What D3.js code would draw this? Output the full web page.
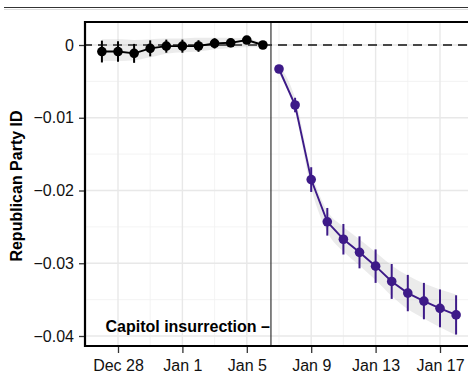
<!DOCTYPE html>
<html><head><meta charset="utf-8">
<script src="https://cdn.jsdelivr.net/npm/d3@7"></script>
<style>
html,body{margin:0;padding:0;background:#fff;}
svg{display:block;font-family:"Liberation Sans",Arial,Helvetica,sans-serif;}
</style></head>
<body><svg id="c" width="468" height="373"></svg>
<script>
// ---- data ----
const preDates = ["2020-12-27","2020-12-28","2020-12-29","2020-12-30","2020-12-31","2021-01-01","2021-01-02","2021-01-03","2021-01-04","2021-01-05","2021-01-06"];
const preEst   = [-0.0009,-0.0009,-0.00115,-0.00046,-0.00016,-0.00016,-0.00014,0.00023,0.0003,0.00068,0.0];
const preErr   = [0.0015,0.0014,0.0013,0.0011,0.0009,0.0009,0.0008,0.0007,0.0006,0.0005,0.0002];
const preRibLo = [-0.0022,-0.0022,-0.0021,-0.0017,-0.0012,-0.0010,-0.0009,-0.0006,-0.0004,-0.0003,-0.0003];
const preRibHi = [0.0008,0.0008,0.0007,0.0008,0.0009,0.0009,0.0010,0.0010,0.0010,0.0009,0.0003];

const postDates = ["2021-01-07","2021-01-08","2021-01-09","2021-01-10","2021-01-11","2021-01-12","2021-01-13","2021-01-14","2021-01-15","2021-01-16","2021-01-17","2021-01-18"];
const postEst   = [-0.0033,-0.00825,-0.0185,-0.0243,-0.0267,-0.0285,-0.0304,-0.0325,-0.0341,-0.0352,-0.0362,-0.0371];
const postErr   = [0.0005,0.001,0.0017,0.0019,0.0021,0.0022,0.0023,0.0024,0.0025,0.0025,0.0026,0.0027];
const postRibLo = [-0.0039,-0.0092,-0.0197,-0.0257,-0.0284,-0.0303,-0.0323,-0.0345,-0.0363,-0.0376,-0.0388,-0.0399];
const postRibHi = [-0.0027,-0.0073,-0.0173,-0.0228,-0.0250,-0.0267,-0.0285,-0.0303,-0.0317,-0.0328,-0.0336,-0.0343];

const xTickDates = ["2020-12-28","2021-01-01","2021-01-05","2021-01-09","2021-01-13","2021-01-17"];
const xTickLabels = ["Dec 28","Jan 1","Jan 5","Jan 9","Jan 13","Jan 17"];
const xMinorDates = ["2020-12-26","2020-12-30","2021-01-03","2021-01-07","2021-01-11","2021-01-15","2021-01-19"];
const yTicks = [0,-0.01,-0.02,-0.03,-0.04];
const yTickLabels = ["0","\u22120.01","\u22120.02","\u22120.03","\u22120.04"];
const yMinor = [-0.005,-0.015,-0.025,-0.035];
const eventDate = "2021-01-06T12:00:00";
const eventLabel = "Capitol insurrection \u2013";
const yTitle = "Republican Party ID";

// ---- setup ----
const parse = s => new Date(s.length > 10 ? s : s + "T00:00:00");
const svg = d3.select("#c");
const W = 468, H = 373;
const panel = {l:85, t:22, r:470, b:346};
const x = d3.scaleTime().domain([parse("2020-12-28"), parse("2021-01-17")]).range([118, 440]);
const y = d3.scaleLinear().domain([0, -0.04]).range([45, 336]);
const purple = "#3d1a88";

// top rules
svg.append("line").attr("x1",4).attr("x2",W).attr("y1",7.5).attr("y2",7.5).attr("stroke","#333").attr("stroke-width",1.2);
svg.append("line").attr("x1",4).attr("x2",W).attr("y1",9.5).attr("y2",9.5).attr("stroke","#ddd").attr("stroke-width",1);

const g = svg.append("g");
g.append("defs").append("clipPath").attr("id","clp").append("rect")
  .attr("x",panel.l).attr("y",panel.t).attr("width",panel.r-panel.l).attr("height",panel.b-panel.t);
const pg = g.append("g").attr("clip-path","url(#clp)");

// grid
pg.selectAll(".gxm").data(xMinorDates).join("line")
  .attr("x1",d=>x(parse(d))).attr("x2",d=>x(parse(d))).attr("y1",panel.t).attr("y2",panel.b)
  .attr("stroke","#f0f0f0").attr("stroke-width",0.8);
pg.selectAll(".gym").data(yMinor).join("line")
  .attr("y1",d=>y(d)).attr("y2",d=>y(d)).attr("x1",panel.l).attr("x2",panel.r)
  .attr("stroke","#f0f0f0").attr("stroke-width",0.8);
pg.selectAll(".gx").data(xTickDates).join("line")
  .attr("x1",d=>x(parse(d))).attr("x2",d=>x(parse(d))).attr("y1",panel.t).attr("y2",panel.b)
  .attr("stroke","#e8e8e8").attr("stroke-width",1.4);
pg.selectAll(".gy").data(yTicks).join("line")
  .attr("y1",d=>y(d)).attr("y2",d=>y(d)).attr("x1",panel.l).attr("x2",panel.r)
  .attr("stroke","#e8e8e8").attr("stroke-width",1.4);

// zero dashed line
pg.append("line").attr("x1",panel.l).attr("x2",panel.r).attr("y1",y(0)).attr("y2",y(0))
  .attr("stroke","#111").attr("stroke-width",1.6).attr("stroke-dasharray","9,6").attr("stroke-dashoffset",2);

// ribbons
function series(dates, est, err, lo, hi){
  const d = dates.map((s,i)=>({x:parse(s), e:est[i], er:err[i], lo:lo[i], hi:hi[i]}));
  pg.append("path").datum(d)
    .attr("d", d3.area().x(p=>x(p.x)).y0(p=>y(p.lo)).y1(p=>y(p.hi)).curve(d3.curveMonotoneX))
    .attr("fill","#999").attr("fill-opacity",0.2);
  return d;
}
const pre = series(preDates, preEst, preErr, preRibLo, preRibHi);
const post = series(postDates, postEst, postErr, postRibLo, postRibHi);

function marks(d, color){
  pg.append("path").datum(d).attr("d", d3.line().x(p=>x(p.x)).y(p=>y(p.e)))
    .attr("fill","none").attr("stroke",color).attr("stroke-width",1.9);
  pg.selectAll(null).data(d).join("line")
    .attr("x1",p=>x(p.x)).attr("x2",p=>x(p.x)).attr("y1",p=>y(p.e+p.er)).attr("y2",p=>y(p.e-p.er))
    .attr("stroke",color).attr("stroke-width",2);
  pg.selectAll(null).data(d).join("circle")
    .attr("cx",p=>x(p.x)).attr("cy",p=>y(p.e)).attr("r",4.8).attr("fill",color);
}
marks(pre, "#000");
marks(post, purple);

// event line
pg.append("line").attr("x1",x(parse(eventDate))).attr("x2",x(parse(eventDate)))
  .attr("y1",panel.t).attr("y2",panel.b).attr("stroke","#333").attr("stroke-width",1.2);

// annotation
g.append("text").attr("x",x(parse(eventDate))-1).attr("y",y(-0.0386)).attr("dy","0.36em")
  .attr("text-anchor","end").attr("font-weight","bold").attr("font-size",16).attr("fill","#000")
  .text(eventLabel);

// panel border
g.append("path").attr("d",`M${panel.r},${panel.t}H${panel.l}V${panel.b}H${panel.r}`)
  .attr("fill","none").attr("stroke","#000").attr("stroke-width",2.2);

// axes
const xAxis = d3.axisBottom(x).tickValues(xTickDates.map(parse))
  .tickFormat((d,i)=>xTickLabels[i]).tickSize(6).tickSizeOuter(0);
const gx = g.append("g").attr("transform",`translate(0,${panel.b+1})`).call(xAxis);
gx.select(".domain").remove();
gx.selectAll(".tick line").attr("stroke","#333").attr("stroke-width",1.3);
gx.selectAll(".tick text").attr("font-size",16).attr("fill","#111").attr("font-family","'Liberation Sans',Arial,sans-serif").attr("dy","0.95em");

const yAxis = d3.axisLeft(y).tickValues(yTicks).tickFormat((d,i)=>yTickLabels[i]).tickSize(5).tickSizeOuter(0);
const gy = g.append("g").attr("transform",`translate(${panel.l-1},0)`).call(yAxis);
gy.select(".domain").remove();
gy.selectAll(".tick line").attr("stroke","#333").attr("stroke-width",1.3);
gy.selectAll(".tick text").attr("font-size",16).attr("fill","#111").attr("font-family","'Liberation Sans',Arial,sans-serif").attr("x",-10);

// y title
g.append("text").attr("transform",`translate(22,186) rotate(-90)`).attr("text-anchor","middle")
  .attr("font-weight","bold").attr("font-size",16).attr("fill","#000").text(yTitle);
</script></body></html>
